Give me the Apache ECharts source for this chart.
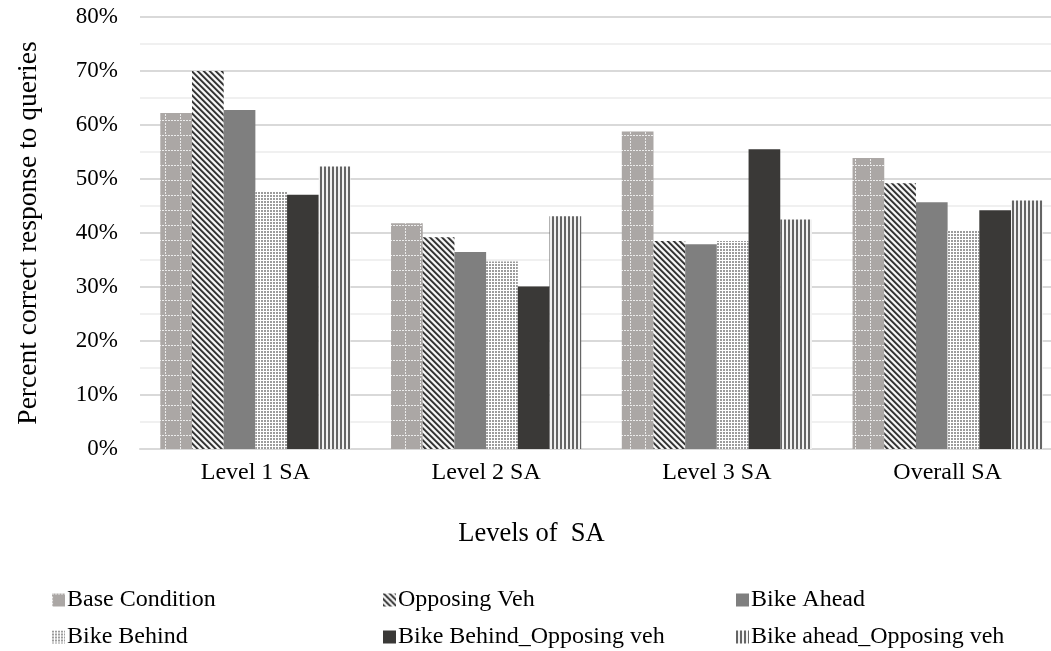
<!DOCTYPE html>
<html>
<head>
<meta charset="utf-8">
<script src="https://cdn.jsdelivr.net/npm/echarts@6/dist/echarts.min.js"></script>
<style>
  html, body { margin: 0; padding: 0; background: #fff; }
  #chart { width: 1051px; height: 651px; }
</style>
</head>
<body>
<div id="chart"></div>
<script>
// Levels of SA - percent correct response
const categories = ['Level 1 SA', 'Level 2 SA', 'Level 3 SA', 'Overall SA'];
const seriesNames = ['Base Condition', 'Opposing Veh', 'Bike Ahead', 'Bike Behind', 'Bike Behind_Opposing veh', 'Bike ahead_Opposing veh'];
const baseCondition = [62.2, 41.8, 58.8, 53.9];
const opposingVeh = [70.0, 39.2, 38.5, 49.2];
const bikeAhead = [62.8, 36.5, 37.9, 45.7];
const bikeBehind = [47.8, 34.7, 38.5, 40.4];
const bikeBehindOpposing = [47.1, 30.1, 55.5, 44.2];
const bikeAheadOpposing = [52.3, 43.1, 42.5, 46.0];
const yMin = 0, yMax = 80, yStep = 10;

const FONT = '"Liberation Serif", "Times New Roman", serif';

function tile(w, h, draw) {
    const c = document.createElement('canvas');
    c.width = w;
    c.height = h;
    draw(c.getContext('2d'));
    return { image: c, repeat: 'repeat' };
}

// grid of white dots on gray
const gridPattern = tile(15, 15, function (ctx) {
    ctx.fillStyle = '#aba7a5';
    ctx.fillRect(0, 0, 15, 15);
    ctx.fillStyle = '#ececec';
    for (let x = 0; x < 15; x += 3) ctx.fillRect(x, 0, 2, 1);
    for (let y = 3; y < 15; y += 3) ctx.fillRect(0, y, 1, 2);
});
// diagonal stripes
const diagPattern = tile(6, 6, function (ctx) {
    for (let x = 0; x < 6; x++) {
        for (let y = 0; y < 6; y++) {
            const k = (x - y + 12) % 6;
            ctx.fillStyle = k < 2 ? '#363636' : (k === 2 ? '#8a8a8a' : (k === 5 ? '#c8c8c8' : '#f6f6f6'));
            ctx.fillRect(x, y, 1, 1);
        }
    }
});
// small dots
const dotPattern = tile(3, 3, function (ctx) {
    ctx.fillStyle = '#ffffff';
    ctx.fillRect(0, 0, 3, 3);
    ctx.fillStyle = '#9c9c9c';
    ctx.fillRect(0, 0, 2, 2);
});
// vertical stripes
const vertPattern = tile(4, 1, function (ctx) {
    ctx.fillStyle = '#656565';
    ctx.fillRect(0, 0, 2, 1);
    ctx.fillStyle = '#f2f2f2';
    ctx.fillRect(2, 0, 2, 1);
});

const seriesData = [baseCondition, opposingVeh, bikeAhead, bikeBehind, bikeBehindOpposing, bikeAheadOpposing];
const fills = [gridPattern, diagPattern, '#7f7f7f', dotPattern, '#3a3937', vertPattern];

const legendLeft = [52, 383, 736];
const legendTop = [588, 625];

const myChart = echarts.init(document.getElementById('chart'));
myChart.setOption({
    animation: false,
    backgroundColor: '#fff',
    grid: {
        left: 140,
        width: 923,
        top: 17,
        bottom: 202,
        containLabel: false,
        outerBoundsMode: 'none'
    },
    legend: seriesNames.map(function (name, i) {
        return {
            data: [name],
            left: legendLeft[i % 3],
            top: legendTop[Math.floor(i / 3)],
            padding: 0,
            icon: 'rect',
            itemWidth: 13,
            itemHeight: 13,
            selectedMode: false,
            textStyle: { fontFamily: FONT, fontSize: 24, color: '#000', padding: [0, 0, 0, -3] }
        };
    }),
    xAxis: {
        type: 'category',
        data: categories,
        name: 'Levels of  SA',
        nameLocation: 'middle',
        nameGap: 72,
        nameTextStyle: { fontFamily: FONT, fontSize: 26.5, color: '#000', padding: [0, 140, 0, 0] },
        axisLine: { lineStyle: { color: '#d9d9d9', width: 2 } },
        axisTick: { show: false },
        axisLabel: { fontFamily: FONT, fontSize: 24, color: '#000', margin: 12 }
    },
    yAxis: {
        type: 'value',
        min: yMin,
        max: yMax,
        interval: yStep,
        name: 'Percent correct response to queries',
        nameLocation: 'middle',
        nameGap: 97,
        nameTextStyle: { fontFamily: FONT, fontSize: 27.5, color: '#000' },
        axisLine: { show: false },
        axisTick: { show: false },
        axisLabel: { formatter: '{value}%', fontFamily: FONT, fontSize: 23, color: '#000', margin: 22 },
        splitLine: { lineStyle: { color: '#d9d9d9', width: 2 } },
        minorTick: { show: false, splitNumber: 2 },
        minorSplitLine: { show: true, lineStyle: { color: '#f0f0f0', width: 2 } }
    },
    series: seriesNames.map(function (name, i) {
        return {
            name: name,
            type: 'bar',
            data: seriesData[i],
            barGap: '0%',
            barCategoryGap: '17.6%',
            itemStyle: { color: fills[i] }
        };
    })
});
</script>
</body>
</html>
